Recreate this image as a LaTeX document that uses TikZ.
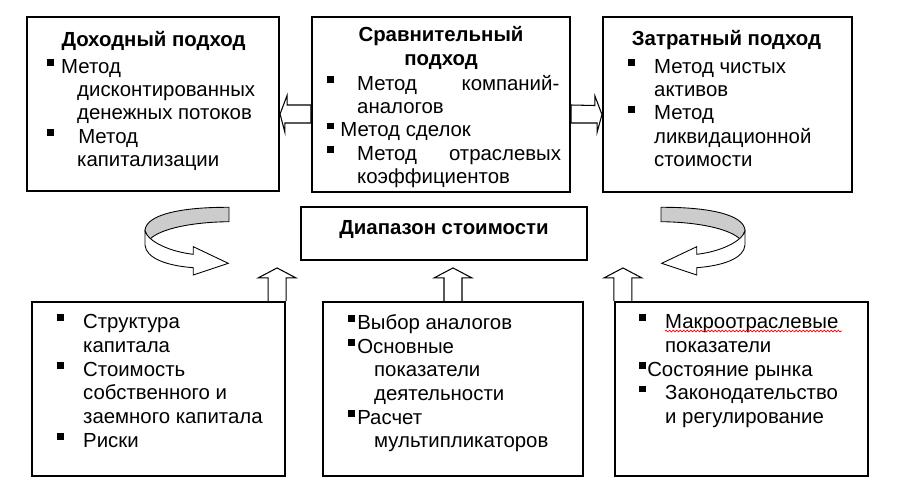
\documentclass[tikz,border=0pt]{standalone}
\usepackage{fontspec}
\setmainfont{Liberation Sans}
\usetikzlibrary{positioning, calc, decorations.pathmorphing}
\tikzstyle{block} = [rectangle, draw=black, line width=1.2pt, inner sep=0]
\tikzstyle{title} = [font=\bfseries\fontsize{11.6}{14}\selectfont, align=center, inner sep=0]
\tikzstyle{items} = [anchor=north west, align=left, inner sep=0, font=\fontsize{11.6}{13.2}\selectfont]
\tikzstyle{hollow} = [draw=black, line width=0.6pt, fill=white]
\newcommand{\bul}[1]{\makebox[#1][l]{\rule[4.2pt]{3.9pt}{3.9pt}}}

\begin{document}
\begin{tikzpicture}
				\useasboundingbox [fill=white] (0, 0) rectangle (17.98, -9.92);

				% upper row
				\node (Dohod) [block, minimum width=5.04cm, minimum height=3.48cm] at (3.06, -2.08) {};
				\node (DohodTitle) [title] at (3.07, -0.82) {Доходный подход};
				\node (DohodList) [items] at (0.94, -1.18) {\bul{7.9pt}Метод\\
					\hspace*{17pt}дисконтированных\\
					\hspace*{17pt}денежных потоков\\
					\bul{17.6pt}Метод\\
					\hspace*{17pt}капитализации};

				\node (Sravn) [block, minimum width=5.16cm, minimum height=3.5cm] at (8.82, -2.09) {};
				\node (SravnTitle) [title] at (8.82, -0.96) {Сравнительный\\подход};
				\node (SravnList) [items] at (6.54, -1.5) {\bul{17pt}\makebox[115pt]{Метод\hfill компаний-}\\
					\hspace*{17pt}аналогов\\
					\bul{7.4pt}Метод сделок\\
					\bul{17pt}\makebox[116pt]{Метод\hfill отраслевых}\\
					\hspace*{17pt}коэффициентов};

				\node (Zatrat) [block, minimum width=4.98cm, minimum height=3.5cm] at (14.55, -2.09) {};
				\node (ZatratTitle) [title] at (14.53, -0.81) {Затратный подход};
				\node (ZatratList) [items] at (12.56, -1.18) {\bul{14.7pt}Метод чистых\\
					\hspace*{14.7pt}активов\\
					\bul{14.7pt}Метод\\
					\hspace*{14.7pt}ликвидационной\\
					\hspace*{14.7pt}стоимости};

				% side arrows
				\draw [hollow] ($(Dohod.east)+(0, -0.2)$) -- ++(0.14, 0.37) -- ++(0, -0.19) -- (Sravn.west |- 0, -2.1)
					-- ++(0, -0.36) -- ++(-0.52, 0) -- ++(0, -0.19) -- cycle;
				\draw [hollow] ($(Zatrat.west)+(0, -0.2)$) -- ++(-0.14, 0.37) -- ++(0, -0.19) -- (Sravn.east |- 0, -2.1)
					-- ++(0, -0.36) -- ++(0.52, 0) -- ++(0, -0.19) -- cycle;

				% the range
				\node (Range) [block, minimum width=5.72cm, minimum height=1.06cm] at (8.88, -4.67) {};
				\node (RangeText) [title] at ($(Range.center)+(0, 0.08)$) {Диапазон стоимости};

				% turning arrows
				\foreach \flip/\shift in {1/0, -1/17.8} {
					\begin{scope}[xshift=\shift cm, xscale=\flip, line width=0.5pt]
						\filldraw [fill=gray!40] (4.58, -4.146) .. controls (3.6, -4.14) and (2.9, -4.3) .. (2.9, -4.62)
							-- (2.98, -4.8) .. controls (3.2, -4.56) and (3.9, -4.44) .. (4.58, -4.434) -- cycle;
						\filldraw [fill=white] (2.9, -4.62) .. controls (2.966, -4.834) and (3.4, -5.034) .. (3.866, -5.086)
							-- (3.866, -4.934) -- (4.566, -5.266) -- (3.866, -5.5) -- (3.866, -5.354)
							.. controls (3.334, -5.314) and (2.92, -5.166) .. (2.9, -4.9) -- cycle;
					\end{scope}
				}

				% lower row
				\node (Capital) [block, minimum width=5.06cm, minimum height=3.48cm] at (3.17, -7.78) {};
				\node (CapitalList) [items, font=\fontsize{11.6}{13.5}\selectfont] at (1.14, -6.28) {\bul{14.7pt}Структура\\
					\hspace*{14.7pt}капитала\\
					\bul{14.7pt}Стоимость\\
					\hspace*{14.7pt}собственного и\\
					\hspace*{14.7pt}заемного капитала\\
					\bul{14.7pt}Риски};

				\node (Peers) [block, minimum width=5.2cm, minimum height=3.48cm] at (9.06, -7.78) {};
				\node (PeersList) [items, font=\fontsize{11.6}{13.5}\selectfont] at (6.96, -6.28) {\bul{5.1pt}Выбор аналогов\\
					\bul{5.1pt}Основные\\
					\hspace*{14.7pt}показатели\\
					\hspace*{14.7pt}деятельности\\
					\bul{5.1pt}Расчет\\
					\hspace*{14.7pt}мультипликаторов};

				\node (Market) [block, minimum width=5.06cm, minimum height=3.48cm] at (14.83, -7.78) {};
				\node (MarketList) [items, font=\fontsize{11.6}{13.5}\selectfont] at (12.78, -6.28) {\bul{14.7pt}Макроотраслевые\\
					\hspace*{14.7pt}показатели\\
					\bul{4.5pt}Состояние рынка\\
					\bul{14.7pt}Законодательство\\
					\hspace*{14.7pt}и регулирование};
				\draw [red, line width=0.4pt, decorate, decoration={snake, amplitude=0.5pt, segment length=2pt}]
					(13.3, -6.62) -- (16.84, -6.62);

				% arrows up to the range
				\draw [hollow] ($(Capital.north east)+(-0.36, 0)$) -- ++(0, 0.46) -- ++(-0.2, 0) -- ++(0.38, 0.2)
					-- ++(0.38, -0.2) -- ++(-0.2, 0) -- (Capital.north east);
				\draw [hollow] ($(Peers.north)+(-0.18, 0)$) -- ++(0, 0.46) -- ++(-0.2, 0) -- ++(0.38, 0.2)
					-- ++(0.38, -0.2) -- ++(-0.2, 0) -- ++(0, -0.46);
				\draw [hollow] (Market.north west) -- ++(0, 0.46) -- ++(-0.2, 0) -- ++(0.38, 0.2)
					-- ++(0.38, -0.2) -- ++(-0.2, 0) -- ++(0, -0.46);
\end{tikzpicture}
\end{document}
